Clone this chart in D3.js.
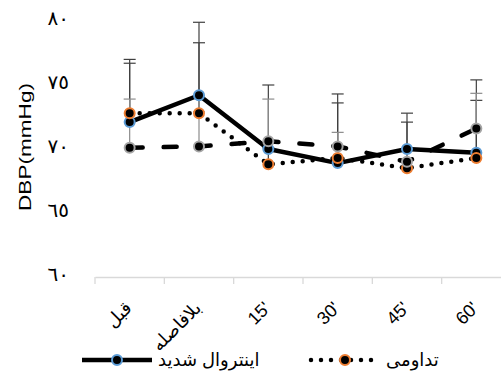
<!DOCTYPE html>
<html>
<head>
<meta charset="utf-8">
<script src="https://cdn.jsdelivr.net/npm/d3@7"></script>
<style>
  body { margin: 0; background: #fff; }
  text { font-family: "Liberation Sans", "DejaVu Sans", sans-serif; fill: #000; }
</style>
</head>
<body>
<div id="chart"></div>
<script>
var width = 501;
var height = 372;

// categories (time points)
var categories = ["قبل", "بلافاصله", "15'", "30'", "45'", "60'"];

// series values (mean DBP) and upper error amounts
var intervalVals = [72.1, 74.2, 70.0, 68.9, 70.0, 69.7];
var intervalErr  = [4.6, 5.7, 5.0, 5.4, 2.8, 5.7];

var continuousVals = [72.8, 72.8, 68.8, 69.3, 68.5, 69.3];
var continuousErr  = [4.2, 5.5, 1.3, 4.3, 3.6, 4.5];

var controlVals = [70.1, 70.2, 70.6, 70.2, 69.0, 71.6];
var controlErr  = [3.8, 2.7, 3.3, 1.1, 1.0, 2.75];

var yTicks = [60, 65, 70, 75, 80];
var yTickLabels = ["٦٠", "٦٥", "٧٠", "٧٥", "٨٠"];

var legendNames = ["اینتروال شدید", "تداومی"];

var series = [
  { name: legendNames[0], vals: intervalVals, err: intervalErr, ring: "#5b9bd5", dash: null, cap: "butt", errColor: "#404040" },
  { name: legendNames[1], vals: continuousVals, err: continuousErr, ring: "#ed7d31", dash: "0 10", cap: "round", errColor: "#404040" },
  { name: "control", vals: controlVals, err: controlErr, ring: "#a5a5a5", dash: "13 21", cap: "round", errColor: "#8c8c8c" }
];

var svg = d3.select("#chart").append("svg")
  .attr("width", width)
  .attr("height", height);

var x = d3.scaleBand().domain(categories).range([95, 511]);
var y = d3.scaleLinear().domain([60, 80]).range([277, 21]);

function cx(i) { return x(categories[i]) + x.bandwidth() / 2; }

// x axis line + ticks
var xAxis = d3.axisBottom(x).tickSize(0).tickFormat("");
var gx = svg.append("g").attr("transform", "translate(0,277)").call(xAxis);
gx.select(".domain").attr("stroke", "#d9d9d9").attr("stroke-width", 1.3);
svg.append("g").selectAll("line")
  .data(d3.range(categories.length + 1))
  .enter().append("line")
  .attr("x1", function(i) { return 95 + i * x.bandwidth(); })
  .attr("x2", function(i) { return 95 + i * x.bandwidth(); })
  .attr("y1", 277).attr("y2", 284)
  .attr("stroke", "#d9d9d9").attr("stroke-width", 1.3);

// x labels rotated
svg.append("g").selectAll("text")
  .data(categories)
  .enter().append("text")
  .attr("transform", function(d, i) { return "translate(" + (cx(i) - 1) + ",305) rotate(-45)"; })
  .attr("text-anchor", "end")
  .attr("dominant-baseline", "central")
  .style("font-size", "18px")
  .text(function(d) { return d; });

// y labels
svg.append("g").selectAll("text")
  .data(yTicks)
  .enter().append("text")
  .attr("x", 69)
  .attr("y", function(d) { return y(d) - 3; })
  .attr("text-anchor", "end")
  .attr("dominant-baseline", "central")
  .style("font-size", "20px")
  .text(function(d, i) { return yTickLabels[i]; });

// y title
svg.append("text")
  .attr("transform", "translate(25,147) rotate(-90)")
  .attr("text-anchor", "middle")
  .attr("dominant-baseline", "central")
  .attr("textLength", 128)
  .attr("lengthAdjust", "spacingAndGlyphs")
  .style("font-size", "17px")
  .text("DBP(mmHg)");

var line = d3.line()
  .x(function(d, i) { return cx(i); })
  .y(function(d) { return y(d); });

// series lines
series.forEach(function(s) {
  svg.append("path")
    .datum(s.vals)
    .attr("d", line)
    .attr("fill", "none")
    .attr("stroke", "#000")
    .attr("stroke-width", 4.5)
    .attr("stroke-linecap", s.cap)
    .attr("stroke-linejoin", "round")
    .attr("stroke-dasharray", s.dash);
});

// error bars (upper only)
series.forEach(function(s) {
  var g = svg.append("g").attr("stroke", s.errColor).attr("stroke-width", 1.2);
  s.vals.forEach(function(v, i) {
    var top = y(v + s.err[i]);
    g.append("line").attr("x1", cx(i)).attr("x2", cx(i)).attr("y1", y(v)).attr("y2", top);
    g.append("line").attr("x1", cx(i) - 6).attr("x2", cx(i) + 6).attr("y1", top).attr("y2", top);
  });
});

// markers
series.forEach(function(s) {
  svg.append("g").selectAll("circle")
    .data(s.vals)
    .enter().append("circle")
    .attr("cx", function(d, i) { return cx(i); })
    .attr("cy", function(d) { return y(d); })
    .attr("r", 5)
    .attr("fill", "#000")
    .attr("stroke", s.ring)
    .attr("stroke-width", 2);
});

// legend
var legendY = 360;
var leg = [
  { s: series[0], x1: 82, x2: 152, mx: 117, tx: 158 },
  { s: series[1], x1: 311, x2: 380, mx: 345, tx: 386 }
];
leg.forEach(function(l) {
  svg.append("line")
    .attr("x1", l.x1).attr("x2", l.x2)
    .attr("y1", legendY).attr("y2", legendY)
    .attr("stroke", "#000")
    .attr("stroke-width", 4.5)
    .attr("stroke-linecap", l.s.cap)
    .attr("stroke-dasharray", l.s.dash);
  svg.append("circle")
    .attr("cx", l.mx).attr("cy", legendY).attr("r", 5)
    .attr("fill", "#000").attr("stroke", l.s.ring).attr("stroke-width", 2);
  svg.append("text")
    .attr("x", l.tx).attr("y", legendY)
    .attr("text-anchor", "start")
    .attr("dominant-baseline", "central")
    .style("font-size", "18px")
    .text(l.s.name);
});
</script>
</body>
</html>
